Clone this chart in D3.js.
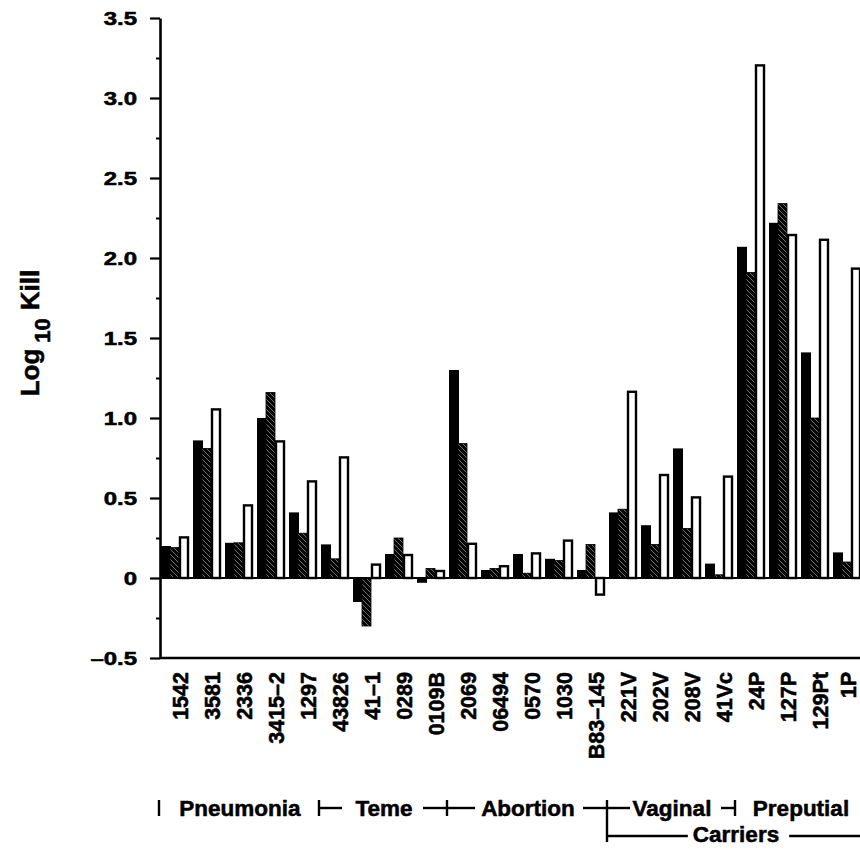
<!DOCTYPE html>
<html>
<head>
<meta charset="utf-8">
<script src="https://cdn.jsdelivr.net/npm/d3@7"></script>
<style>
  html, body { margin: 0; padding: 0; background: #fff; }
  svg { display: block; }
  text { font-family: "Liberation Sans", Arial, Helvetica, sans-serif; font-weight: bold; fill: #000;
         stroke: #000; stroke-width: 0.55px; paint-order: stroke; }
</style>
</head>
<body>
<svg id="chart" width="860" height="851"></svg>
<script>
// Isolates and their log10 kill values for the three treatments
const categories = ["1542","3581","2336","3415–2","1297","43826","41–1","0289","0109B","2069",
                    "06494","0570","1030","B83–145","221V","202V","208V","41Vc","24P","127P","129Pt","1P"];
const solidValues   = [0.20,0.86,0.22,1.00,0.41,0.21,-0.15,0.15,-0.03,1.30,0.05,0.15,0.12,0.05,0.41,0.33,0.81,0.09,2.07,2.22,1.41,0.16];
const hatchedValues = [0.19,0.81,0.22,1.16,0.28,0.12,-0.30,0.25,0.06,0.84,0.06,0.03,0.11,0.21,0.43,0.21,0.31,0.02,1.91,2.34,1.00,0.10];
const openValues    = [0.26,1.06,0.46,0.86,0.61,0.76,0.09,0.15,0.05,0.22,0.08,0.16,0.24,-0.11,1.17,0.65,0.51,0.64,3.21,2.15,2.12,1.94];
const seriesNames = ["solid","hatched","open"];

// Axis ticks
const yMajorTicks = [-0.5,0,0.5,1.0,1.5,2.0,2.5,3.0,3.5];
const yTickLabels = ["–0.5","0","0.5","1.0","1.5","2.0","2.5","3.0","3.5"];
const yMinorTicks = [-0.25,0.25,0.75,1.25,1.75,2.25,2.75,3.25];

// Source groups shown under the isolate names
const groupNames  = ["Pneumonia","Teme","Abortion","Vaginal","Preputial"];
const groupStarts = ["1542","43826","2069","221V","24P"];
const carrierName = "Carriers";
const carrierStart = "221V";

const svg = d3.select("#chart");
const W = 860;

const axisX = 160;
const y = d3.scaleLinear().domain([-0.5, 3.5]).range([658, 18]);

const x = d3.scaleBand()
  .domain(categories)
  .range([161, 161 + 22 * 32 - 5])
  .paddingInner(5 / 32)
  .paddingOuter(0);
const xs = d3.scaleBand().domain(seriesNames).range([0, x.bandwidth()]);
const rightEdge = 870;

// Hatch pattern: dark fill crossed by thin light diagonals
const defs = svg.append("defs");
const ps = 5;
const pat = defs.append("pattern")
  .attr("id", "hatch")
  .attr("patternUnits", "userSpaceOnUse")
  .attr("width", ps).attr("height", ps);
pat.append("rect").attr("width", ps).attr("height", ps).attr("fill", "#050505");
pat.append("path")
  .attr("d", `M0,0 L${ps},${ps} M-1,${ps - 1} L1,${ps + 1} M${ps - 1},-1 L${ps + 1},1`)
  .attr("stroke", "#b5b5b5").attr("stroke-width", 0.6);

// Bars
const rows = categories.map((c, i) => ({
  cat: c,
  values: [solidValues[i], hatchedValues[i], openValues[i]]
}));

const barG = svg.append("g");
const groups = barG.selectAll("g.grp").data(rows).join("g")
  .attr("class", "grp")
  .attr("transform", d => `translate(${x(d.cat)},0)`);

groups.each(function (d) {
  const g = d3.select(this);
  seriesNames.forEach((s, k) => {
    const v = d.values[k];
    const top = y(Math.max(0, v));
    const h = Math.abs(y(v) - y(0));
    const bx = xs(s);
    const bw = xs.bandwidth();
    if (s === "solid") {
      g.append("rect").attr("x", bx).attr("y", top).attr("width", bw + 1).attr("height", h)
        .attr("fill", "#000");
    } else if (s === "hatched") {
      g.append("rect").attr("x", bx).attr("y", top).attr("width", bw).attr("height", h)
        .attr("fill", "url(#hatch)").attr("stroke", "#000").attr("stroke-width", 0.8);
    } else {
      g.append("rect").attr("x", bx + 1).attr("y", top + (v >= 0 ? 1 : 0))
        .attr("width", bw - 1).attr("height", Math.max(0, h - 1))
        .attr("fill", "#fff").attr("stroke", "#000").attr("stroke-width", 2.4);
    }
  });
});

// Zero line and bottom axis line
svg.append("line")
  .attr("x1", axisX).attr("x2", rightEdge)
  .attr("y1", y(0)).attr("y2", y(0))
  .attr("stroke", "#000").attr("stroke-width", 2.2);
svg.append("line")
  .attr("x1", axisX).attr("x2", rightEdge)
  .attr("y1", y(-0.5)).attr("y2", y(-0.5))
  .attr("stroke", "#000").attr("stroke-width", 2.6);

// Y axis: major ticks with labels, then short minor ticks
const yAxis = d3.axisLeft(y)
  .tickValues(yMajorTicks)
  .tickSize(10)
  .tickSizeOuter(0)
  .tickFormat((d, i) => yTickLabels[i]);
const yG = svg.append("g").attr("transform", `translate(${axisX},0)`).call(yAxis);
yG.select(".domain").attr("stroke", "#000").attr("stroke-width", 2.6);
yG.selectAll(".tick line").attr("stroke", "#000").attr("stroke-width", 2.2);
const sx = 1.33;
yG.selectAll(".tick text")
  .attr("font-size", 18)
  .attr("font-family", "'Liberation Sans', Arial, sans-serif")
  .attr("font-weight", "bold")
  .attr("fill", "#000")
  .attr("x", -23 / sx)
  .attr("dy", "0.36em")
  .attr("transform", `scale(${sx},1)`);

svg.append("g").attr("transform", `translate(${axisX},0)`)
  .call(d3.axisLeft(y).tickValues(yMinorTicks).tickSize(4).tickFormat(""))
  .call(g => g.select(".domain").remove())
  .selectAll(".tick line").attr("stroke", "#000").attr("stroke-width", 2);

// Y axis title: Log10 Kill
const yt = svg.append("text")
  .attr("transform", "translate(39,333) rotate(-90)")
  .attr("text-anchor", "middle")
  .attr("font-size", 26);
yt.append("tspan").text("Log");
yt.append("tspan").attr("font-size", 22).attr("dx", 6).attr("dy", 11).text("10");
yt.append("tspan").attr("dx", 8).attr("dy", -11).text("Kill");

// Isolate names, vertical (kept inside the right edge of the page)
svg.append("g").selectAll("text").data(categories).join("text")
  .attr("transform", d => `translate(${Math.min(x(d) + 19.5, W - 12)},672) rotate(-90)`)
  .attr("text-anchor", "end")
  .attr("dy", "0.36em")
  .attr("font-size", 21.5)
  .text(d => d);

// Source group row
const bounds = groupStarts.map(c => x(c) - 2);
const rowEnd = 865;
const gy = 816, gTop = 800, gMid = 808;
const lab = svg.append("g");
groupNames.forEach((name, i) => {
  const a = bounds[i];
  const b = i + 1 < bounds.length ? bounds[i + 1] : rowEnd;
  lab.append("text").attr("x", (a + b) / 2 + 1).attr("y", gy)
    .attr("text-anchor", "middle").attr("font-size", 22.5).text(name);
});
const lineAttr = sel => sel.attr("stroke", "#000").attr("stroke-width", 2.4);
bounds.forEach((bx, i) => {
  const last = i === bounds.length - 1;
  const branch = groupStarts[i] === carrierStart;
  lab.append("line").attr("x1", bx).attr("x2", bx)
    .attr("y1", gTop).attr("y2", branch ? 842 : gy).call(lineAttr);
  if (i >= 2) {
    lab.append("line").attr("x1", bx - (last ? 14 : 24)).attr("x2", bx)
      .attr("y1", gMid).attr("y2", gMid).call(lineAttr);
  }
  if (i >= 1 && !last) {
    lab.append("line").attr("x1", bx).attr("x2", bx + (i === 2 ? 28 : 23))
      .attr("y1", gMid).attr("y2", gMid).call(lineAttr);
  }
});

// Carriers span
const cStart = x(carrierStart) - 2;
const cMid = (cStart + rowEnd) / 2;
const cText = lab.append("text").attr("x", cMid).attr("y", 842)
  .attr("text-anchor", "middle").attr("font-size", 22.5).text(carrierName);
const cw = cText.node().getComputedTextLength();
lab.append("line").attr("x1", cStart).attr("x2", cMid - cw / 2 - 5)
  .attr("y1", 836).attr("y2", 836).call(lineAttr);
lab.append("line").attr("x1", cMid + cw / 2 + 10).attr("x2", rowEnd)
  .attr("y1", 836).attr("y2", 836).call(lineAttr);
</script>
</body>
</html>
